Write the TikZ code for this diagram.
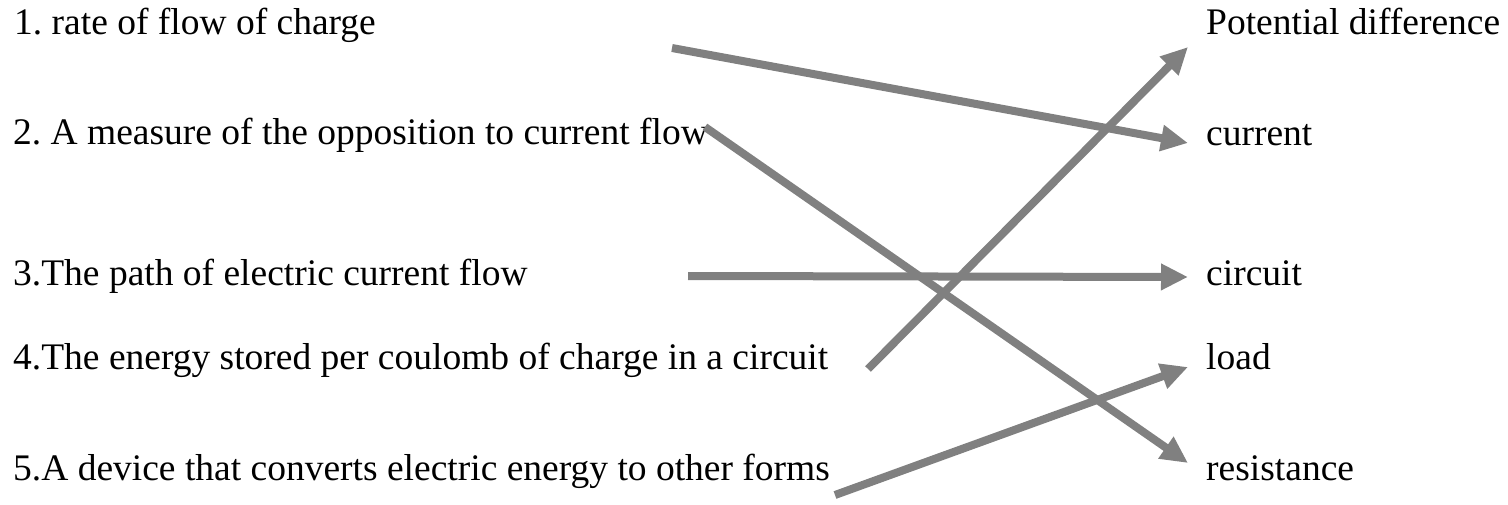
\documentclass[tikz,border=0pt]{standalone}
\usepackage{fontspec}
\setmainfont{Liberation Serif}
\usetikzlibrary{arrows.meta}
\definecolor{linkgray}{HTML}{808080}
\tikzset{
  term/.style={anchor=base west, inner sep=0pt, font=\fontsize{37.5pt}{40pt}\selectfont\frenchspacing},
  link/.style={draw=linkgray, line width=8pt, -{Triangle[length=27pt,width=25pt]}, fill=linkgray}
}
\begin{document}
\begin{tikzpicture}[x=1pt, y=-1pt]
\useasboundingbox (0,0) rectangle (1508,505);
% definitions on the left
\node[term] (l1) at (14,35)  {1. rate of flow of charge};
\node[term] (l2) at (13,145) {2. A measure of the opposition to current flow};
\node[term] (l3) at (13,285) {3.The path of electric current flow};
\node[term] (l4) at (13,369) {4.The energy stored per coulomb of charge in a circuit};
\node[term] (l5) at (13,480) {5.A device that converts electric energy to other forms};
% terms on the right
\node[term] (r1) at (1206,35)  {Potential difference};
\node[term] (r2) at (1206,146) {current};
\node[term] (r3) at (1206,285) {circuit};
\node[term] (r4) at (1206,369) {load};
\node[term] (r5) at (1206,480) {resistance};
% arrow end points
\coordinate (s1) at (672,48);  \coordinate (t1) at (1188,143);
\coordinate (s2) at (705,127); \coordinate (t2) at (1188,463);
\coordinate (s3) at (688,276); \coordinate (t3) at (1188,277);
\coordinate (s4) at (868,369); \coordinate (t4) at (1188,47);
\coordinate (s5) at (835,495); \coordinate (t5) at (1188,367);
% matching arrows
\draw[link] (s1) -- (t1);
\draw[link] (s2) -- (t2);
\draw[link] (s3) -- (t3);
\draw[link] (s4) -- (t4);
\draw[link] (s5) -- (t5);
\end{tikzpicture}
\end{document}
